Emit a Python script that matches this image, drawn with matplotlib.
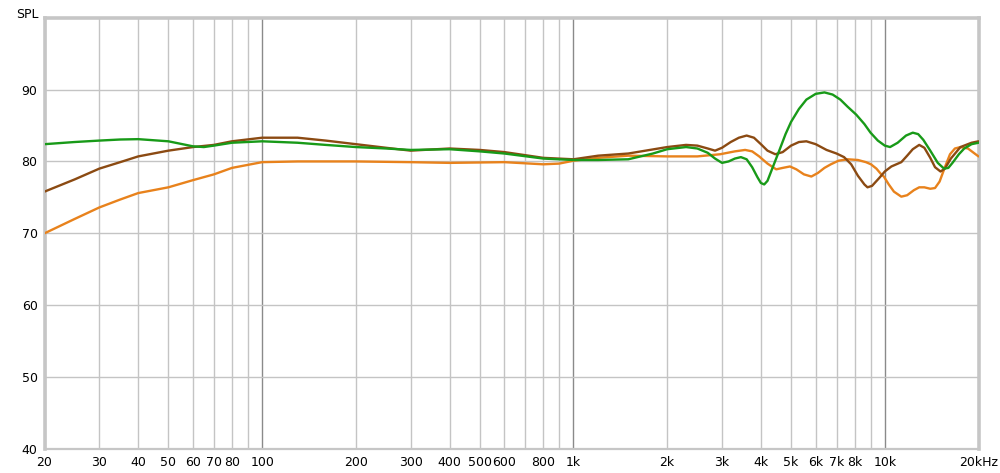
import matplotlib
matplotlib.use("Agg")
import matplotlib.pyplot as plt
from matplotlib.ticker import FixedLocator, NullFormatter, NullLocator

# ---- data ----
green_f = [20, 25, 30, 35, 40, 50, 60, 65, 70, 80, 100, 130, 160, 200, 250, 300, 400, 500, 600,
           800, 1000, 1200, 1500, 1800, 2000, 2300, 2500, 2700, 2850, 3000, 3150, 3300, 3450,
           3600, 3750, 3900, 4000, 4100, 4200, 4350, 4600, 4800, 5000, 5300, 5600, 6000, 6400,
           6800, 7200, 7600, 8100, 8600, 9000, 9500, 10000, 10400, 11000, 11700, 12300, 12800,
           13300, 14000, 14800, 15500, 16000, 16500, 17300, 18000, 19000, 20000]
green_db = [82.4, 82.7, 82.9, 83.05, 83.1, 82.8, 82.1, 82.0, 82.2, 82.6, 82.8, 82.6, 82.3, 82.0,
            81.8, 81.6, 81.7, 81.4, 81.1, 80.4, 80.2, 80.2, 80.3, 81.1, 81.7, 82.0, 81.8, 81.2,
            80.4, 79.8, 80.0, 80.4, 80.6, 80.3, 79.2, 77.8, 77.0, 76.8, 77.3, 79.0, 81.7, 83.8,
            85.5, 87.3, 88.6, 89.4, 89.6, 89.3, 88.6, 87.6, 86.5, 85.2, 84.0, 82.9, 82.2, 82.0,
            82.6, 83.6, 84.0, 83.8, 83.0, 81.5, 79.8, 79.0, 79.1, 79.8, 81.0, 81.8, 82.4, 82.6]

brown_f = [20, 25, 30, 35, 40, 50, 60, 70, 80, 100, 130, 160, 200, 250, 300, 400, 500, 600, 800,
           1000, 1200, 1500, 2000, 2300, 2500, 2700, 2850, 3000, 3200, 3400, 3600, 3800, 4000,
           4200, 4450, 4700, 5000, 5300, 5600, 6000, 6500, 7000, 7400, 7800, 8200, 8600, 8800,
           9100, 9600, 10000, 10500, 11300, 11800, 12300, 12900, 13400, 14000, 14500, 15100,
           15600, 16300, 17500, 19000, 20000]
brown_db = [75.8, 77.5, 79.0, 79.9, 80.7, 81.5, 82.0, 82.3, 82.8, 83.3, 83.3, 82.9, 82.4, 81.9,
            81.5, 81.8, 81.6, 81.3, 80.5, 80.3, 80.8, 81.1, 82.0, 82.3, 82.2, 81.8, 81.5, 81.9,
            82.7, 83.3, 83.6, 83.3, 82.4, 81.5, 81.0, 81.3, 82.2, 82.7, 82.8, 82.4, 81.6, 81.1,
            80.6, 79.6, 78.0, 76.8, 76.4, 76.6, 77.7, 78.6, 79.3, 79.9, 80.8, 81.7, 82.3, 81.9,
            80.5, 79.2, 78.6, 79.0, 80.4, 82.0, 82.6, 82.8]

orange_f = [20, 25, 30, 35, 40, 50, 60, 70, 80, 100, 130, 160, 200, 300, 400, 600, 800, 900,
            1000, 1200, 1500, 2000, 2500, 2960, 3300, 3560, 3750, 3950, 4200, 4480, 4700, 4960,
            5200, 5500, 5810, 6100, 6400, 6710, 7100, 7600, 8200, 8700, 9030, 9400, 9700, 9930,
            10300, 10700, 11300, 11800, 12400, 12900, 13400, 14000, 14500, 15000, 15600, 16200,
            16800, 17500, 18500, 19300, 20000]
orange_db = [70.0, 72.0, 73.6, 74.7, 75.6, 76.4, 77.4, 78.2, 79.1, 79.9, 80.0, 80.0, 80.0, 79.9,
             79.8, 79.9, 79.6, 79.7, 80.1, 80.5, 80.8, 80.7, 80.7, 81.0, 81.4, 81.6, 81.4, 80.7,
             79.7, 78.9, 79.1, 79.3, 78.9, 78.2, 77.9, 78.4, 79.1, 79.6, 80.1, 80.3, 80.2, 79.9,
             79.6, 79.0, 78.3, 77.9, 76.8, 75.8, 75.1, 75.3, 76.0, 76.4, 76.4, 76.2, 76.3, 77.2,
             79.2, 81.0, 81.8, 82.0, 81.8, 81.2, 80.7]

x_tick_values = [20, 30, 40, 50, 60, 70, 80, 100, 200, 300, 400, 500, 600, 800,
                 1000, 2000, 3000, 4000, 5000, 6000, 7000, 8000, 10000, 20000]
x_tick_labels = ["20", "30", "40", "50", "60", "70", "80", "100", "200", "300", "400", "500",
                 "600", "800", "1k", "2k", "3k", "4k", "5k", "6k", "7k", "8k", "10k", "20kHz"]
y_tick_values = [40, 50, 60, 70, 80, 90]

# ---- figure ----
fig = plt.figure(figsize=(10, 4.73), dpi=100)
ax = fig.add_axes([0.0445, 0.0507, 0.934, 0.912])

ax.set_xscale("log")
ax.set_xlim(20, 20000)
ax.set_ylim(40, 100)

# gridlines
minor_grid = []
for dec in [10, 100, 1000, 10000]:
    for m in range(2, 10):
        v = dec * m
        if 20 <= v <= 20000:
            minor_grid.append(v)
for v in minor_grid:
    ax.axvline(v, color="#c4c4c4", lw=1.0, zorder=1)
for v in [100, 1000, 10000]:
    ax.axvline(v, color="#8a8a8a", lw=1.0, zorder=1)
for v in [50, 60, 70, 80, 90]:
    ax.axhline(v, color="#c4c4c4", lw=1.0, zorder=1)

ax.plot(orange_f, orange_db, color="#e8821c", lw=1.7, zorder=3,
        solid_capstyle="round", solid_joinstyle="round")
ax.plot(brown_f, brown_db, color="#8b4a12", lw=1.7, zorder=4,
        solid_capstyle="round", solid_joinstyle="round")
ax.plot(green_f, green_db, color="#189a18", lw=1.7, zorder=5,
        solid_capstyle="round", solid_joinstyle="round")

ax.xaxis.set_major_locator(FixedLocator(x_tick_values))
ax.set_xticklabels(x_tick_labels)
ax.xaxis.set_minor_locator(NullLocator())
ax.xaxis.set_minor_formatter(NullFormatter())
ax.set_yticks(y_tick_values)
ax.set_yticklabels([str(v) for v in y_tick_values])

ax.tick_params(axis="both", length=0, labelsize=9, colors="#000000")
ax.tick_params(axis="x", pad=5)
ax.tick_params(axis="y", pad=5)

for s in ["top", "left", "right"]:
    ax.spines[s].set_color("#c6c6c6")
    ax.spines[s].set_linewidth(2.6)
ax.spines["bottom"].set_color("#c6c6c6")
ax.spines["bottom"].set_linewidth(1.6)

fig.text(0.016, 0.983, "SPL", fontsize=9, ha="left", va="top")

fig.savefig("out.png", dpi=100, facecolor="white")
